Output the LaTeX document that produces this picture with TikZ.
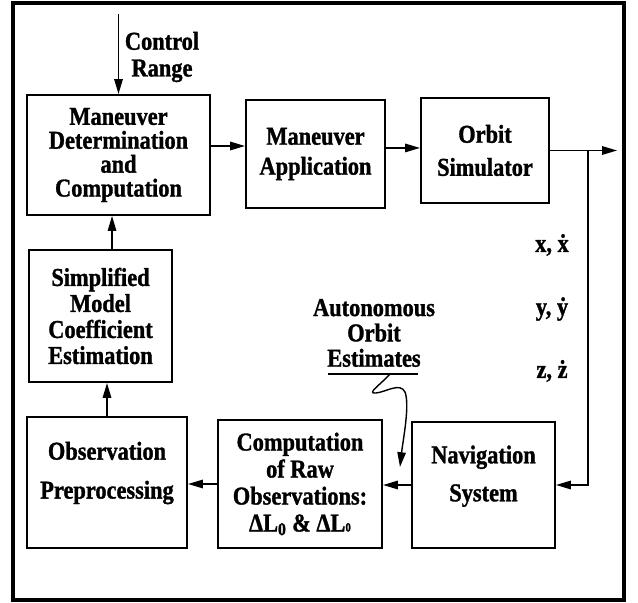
\documentclass[tikz,border=0pt]{standalone}
\usepackage{fontspec}
\setmainfont{Liberation Serif}[FakeStretch=0.87, BoldFeatures={FakeBold=1.2}]
\usetikzlibrary{arrows.meta}
\newcommand{\lsp}[1]{\bfseries\fontsize{18.3}{#1}\selectfont}
\begin{document}
\begin{tikzpicture}[x=0.025cm,y=-0.025cm,
    blk/.style={draw, line width=1.4pt, inner sep=0pt, align=center},
    lbl/.style={inner sep=0pt, align=center},
    flow/.style={line width=1pt, -{Triangle[length=10.5pt,width=6pt]}}]
  \useasboundingbox (0,0) rectangle (638,603);
  \draw[line width=2.2pt] (13,3) rectangle (624,600);
  % blocks
  \node[blk, minimum width=4.575cm, minimum height=3cm, font=\lsp{17}] (mdc) at (118.5,155) {Maneuver\\Determination\\and\\Computation};
  \node[blk, minimum width=3.475cm, minimum height=2.7cm, font=\lsp{21.3}] (mapp) at (315.5,154) {Maneuver\\Application};
  \node[blk, minimum width=3.2cm, minimum height=2.625cm, font=\lsp{23.5}] (orbsim) at (485,150.5) {Orbit\\Simulator};
  \node[blk, minimum width=3.575cm, minimum height=3.3cm, font=\lsp{18.5}] (smce) at (100.5,316) {Simplified\\Model\\Coefficient\\Estimation};
  \node[blk, minimum width=4cm, minimum height=3.275cm, font=\lsp{27.7}, text depth=17.5pt] (obspre) at (107,482.5) {Observation\\Preprocessing};
  \node[blk, minimum width=4.1cm, minimum height=3.2cm, font=\lsp{19.2}] (comp) at (300,484) {Computation\\of Raw\\Observations:\\ΔL\textsubscript{0} \& ΔL{\small 0}};
  \node[blk, minimum width=3.575cm, minimum height=3.15cm, font=\lsp{27}, text depth=16.5pt] (nav) at (483.5,485) {Navigation\\System};
  % labels
  \node[lbl, font=\lsp{19}] (ctrlrange) at (162,57) {Control\\Range};
  \node[lbl, font=\lsp{18}] (aoe) at (374,333) {Autonomous\\Orbit\\Estimates};
  \node[lbl, font=\lsp{18}] (xlab) at (552,245) {x, \.{x}};
  \node[lbl, font=\lsp{18}] (ylab) at (552,309) {y, \.{y}};
  \node[lbl, font=\lsp{18}] (zlab) at (552,371) {z, \.{z}};
  \coordinate (ctrl) at (118.5,14);
  \coordinate (jn) at (588,150.5);
  \coordinate (out) at (617,150.5);
  \coordinate (tip) at (400,467);
  % connectors
  \draw[flow] (ctrl) -- (mdc.north);
  \draw[flow] ([yshift=6.4pt]mdc.east) -- ([yshift=6.4pt]mdc.east -| mapp.west);
  \draw[flow] ([yshift=4.3pt]mapp.east) -- ([yshift=4.3pt]mapp.east -| orbsim.west);
  \draw[flow] (orbsim.east) -- (out);
  \draw[flow] (jn) |- (nav.east);
  \draw[flow] (nav.west) -- (nav.west -| comp.east);
  \draw[flow] (comp.west) -- (comp.west -| obspre.east);
  \draw[flow] (obspre.north) -- (obspre.north |- smce.south);
  \draw[flow] ([xshift=8.2pt]smce.north) -- ([xshift=8.2pt]smce.north |- mdc.south);
  \draw[line width=1pt] (328,374) -- coordinate[pos=0.69] (ulm) (418,374);
  \draw[flow] (ulm) .. controls (380,385) and (366,394) .. (376,393)
    .. controls (386,392) and (400,382) .. (405,392)
    .. controls (410,405) and (403,440) .. (tip);
\end{tikzpicture}
\end{document}
